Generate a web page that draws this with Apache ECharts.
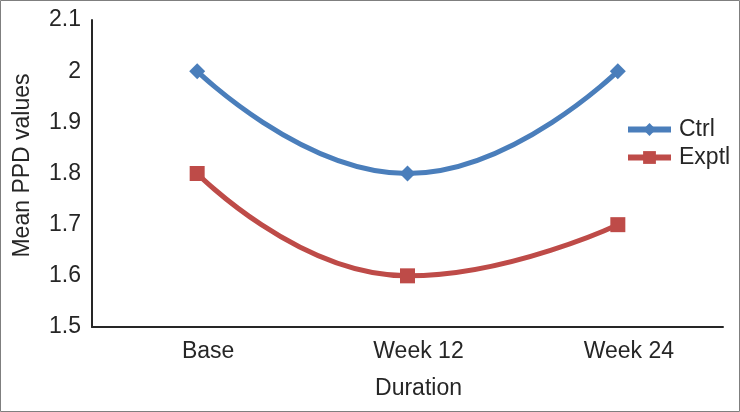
<!DOCTYPE html>
<html>
<head>
<meta charset="utf-8">
<script src="https://cdn.jsdelivr.net/npm/echarts@6/dist/echarts.min.js"></script>
<style>
html,body{margin:0;padding:0;background:#fff;}
#c{width:740px;height:412px;}
</style>
</head>
<body>
<div id="c"></div>
<script>
const categories = ['Base', 'Week 12', 'Week 24'];
const ctrlValues = [2.0, 1.8, 2.0];
const exptlValues = [1.8, 1.6, 1.7];
const yTicks = { min: 1.5, max: 2.1, interval: 0.1 };

const chart = echarts.init(document.getElementById('c'));
const font = 'Liberation Sans, Arial, sans-serif';
const fs = 23;
chart.setOption({
  backgroundColor: '#fff',
  animation: false,
  graphic: [{
    type: 'rect', silent: true, z: 100,
    shape: { x: 0.5, y: 0.5, width: 739, height: 411 },
    style: { fill: 'none', stroke: '#7f7f7f', lineWidth: 1 }
  }],
  grid: { left: 92, right: 17, top: 20, bottom: 85, containLabel: false, outerBoundsMode: 'none' },
  legend: {
    orient: 'vertical', left: 620, top: 113,
    itemWidth: 43, itemHeight: 16, itemGap: 5,
    lineStyle: { width: 6 },
    textStyle: { fontFamily: font, fontSize: fs, color: '#262626', padding: [0, 0, 0, 3] },
    data: ['Ctrl', 'Exptl']
  },
  xAxis: {
    type: 'category', data: categories, boundaryGap: true,
    name: 'Duration', nameLocation: 'middle', nameGap: 50,
    nameTextStyle: { fontFamily: font, fontSize: fs, color: '#262626', padding: [0, 0, 0, 22] },
    axisLine: { lineStyle: { color: '#262626', width: 2 } },
    axisTick: { show: false },
    axisLabel: { fontFamily: font, fontSize: fs, color: '#262626', margin: 13, padding: [0, 0, 0, 22] },
    splitLine: { show: false }
  },
  yAxis: {
    type: 'value', min: yTicks.min, max: yTicks.max, interval: yTicks.interval,
    name: 'Mean PPD values', nameLocation: 'middle', nameGap: 58, nameRotate: 90,
    nameTextStyle: { fontFamily: font, fontSize: fs, color: '#262626', padding: [0, 0, 0, 16] },
    axisLine: { show: true, lineStyle: { color: '#262626', width: 2 } },
    axisTick: { show: false },
    axisLabel: { fontFamily: font, fontSize: fs, color: '#262626', margin: 11,
      formatter: v => String(Math.round(v * 10) / 10) },
    splitLine: { show: false }
  },
  series: [
    {
      name: 'Ctrl', type: 'line', data: ctrlValues, smooth: 0.5,
      symbol: 'diamond', symbolSize: 16,
      lineStyle: { color: '#4A7EBB', width: 5 },
      itemStyle: { color: '#4A7EBB' }
    },
    {
      name: 'Exptl', type: 'line', data: exptlValues, smooth: 0.5,
      symbol: 'rect', symbolSize: 15,
      lineStyle: { color: '#BE4B48', width: 5 },
      itemStyle: { color: '#BE4B48' }
    }
  ]
});
</script>
</body>
</html>
